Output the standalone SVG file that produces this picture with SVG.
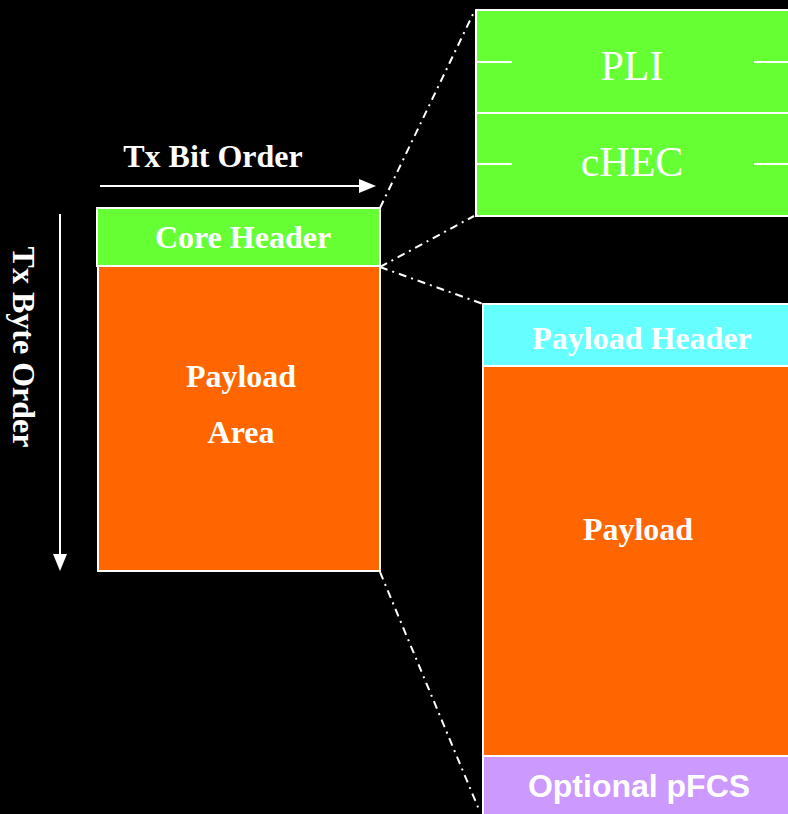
<svg xmlns="http://www.w3.org/2000/svg" width="788" height="814" viewBox="0 0 788 814">
<defs>
<style>
.box{stroke:#fff;stroke-width:2}
.green{fill:#66FF33}
.orange{fill:#FF6600}
.cyan{fill:#66FFFF}
.lav{fill:#CC99FF}
.bt{font-family:"Liberation Serif","Times New Roman",serif;font-weight:bold;font-size:32px;fill:#fff;text-anchor:middle}
.rt{font-family:"Liberation Serif","Times New Roman",serif;font-size:42px;fill:#fff;text-anchor:middle}
.st{font-family:"Liberation Sans",Arial,sans-serif;font-weight:bold;font-size:32px;fill:#fff;text-anchor:middle}
.dd{stroke:#fff;stroke-width:2;fill:none;stroke-dasharray:8 5 2 5}
.arr{stroke:#fff;stroke-width:2;fill:none}
.tick{stroke:#fff;stroke-width:2}
</style>
<marker id="ah" viewBox="0 0 10 10" refX="10" refY="5" markerWidth="8" markerHeight="8" markerUnits="userSpaceOnUse" orient="auto">
<path d="M0,0 L10,5 L0,10 Z" fill="#fff"/>
</marker>
</defs>
<rect width="788" height="814" fill="#000"/>

<g id="connectors">
<line class="dd" x1="380" y1="208" x2="474" y2="12"/>
<line class="dd" x1="380" y1="267" x2="474" y2="216"/>
<line class="dd" x1="380" y1="267" x2="483" y2="304"/>
<line class="dd" x1="380" y1="572" x2="480" y2="812"/>
</g>

<g id="tx-bit-order">
<text class="bt" x="213" y="167">Tx Bit Order</text>
<line class="arr" x1="100" y1="186" x2="361" y2="186"/>
<path d="M359,179 L376,186 L359,193 Z" fill="#fff"/>
</g>

<g id="tx-byte-order">
<text class="bt" transform="translate(13,347) rotate(90)" x="0" y="0">Tx Byte Order</text>
<line class="arr" x1="60" y1="214" x2="60" y2="556"/>
<path d="M53,554 L60,571 L67,554 Z" fill="#fff"/>
</g>

<g id="core-header">
<rect class="box green" x="97" y="208" width="283" height="58"/>
<text class="bt" x="243" y="248">Core Header</text>
</g>

<g id="payload-area">
<rect class="box orange" x="98" y="266" width="282" height="305"/>
<text class="bt" x="241" y="387">Payload</text>
<text class="bt" x="241" y="443">Area</text>
</g>

<g id="pli">
<rect class="box green" x="476" y="10" width="320" height="103"/>
<line class="tick" x1="476" y1="62" x2="512" y2="62"/>
<line class="tick" x1="754" y1="62" x2="790" y2="62"/>
<text class="rt" x="632" y="80">PLI</text>
</g>

<g id="chec">
<rect class="box green" x="476" y="113" width="320" height="103"/>
<line class="tick" x1="476" y1="164" x2="512" y2="164"/>
<line class="tick" x1="754" y1="164" x2="790" y2="164"/>
<text class="rt" x="632" y="176">cHEC</text>
</g>

<g id="payload-header">
<rect class="box cyan" x="483" y="304" width="310" height="62"/>
<text class="bt" x="642" y="349">Payload Header</text>
</g>

<g id="payload">
<rect class="box orange" x="483" y="366" width="310" height="390"/>
<text class="bt" x="638" y="540">Payload</text>
</g>

<g id="optional-pfcs">
<rect class="box lav" x="483" y="756" width="310" height="64"/>
<text class="st" x="639" y="797">Optional pFCS</text>
</g>
</svg>
